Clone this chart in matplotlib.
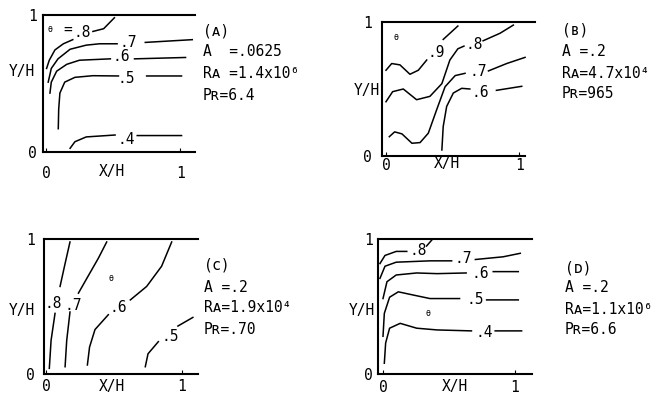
import numpy as np
import matplotlib.pyplot as plt

plt.rcParams['font.family'] = ['DejaVu Sans Mono', 'DejaVu Sans']

# isotherms, None = gap where the label sits
# (A) A=.0625 Ra=1.4x10^6 Pr=6.4
A_levels = [".8", ".7", ".6", ".5", ".4"]
A_x = [
    [0.005, 0.025, 0.067, 0.13, 0.20, None, 0.35, 0.43, 0.51],
    [0.017, 0.04, 0.09, 0.18, 0.30, 0.40, 0.53, None, 0.74, 1.09],
    [0.03, 0.04, 0.08, 0.155, 0.25, 0.48, None, 0.66, 1.04],
    [0.092, 0.095, 0.104, 0.14, 0.216, 0.35, 0.54, None, 0.75, 1.01],
    [0.18, 0.216, 0.30, 0.515, None, 0.68, 1.01],
]
A_y = [
    [0.61, 0.67, 0.745, 0.79, 0.82, None, 0.88, 0.90, 0.98],
    [0.51, 0.61, 0.68, 0.75, 0.78, 0.79, 0.79, None, 0.80, 0.82],
    [0.43, 0.51, 0.59, 0.64, 0.67, 0.68, None, 0.68, 0.69],
    [0.17, 0.31, 0.43, 0.51, 0.545, 0.557, 0.555, None, 0.555, 0.555],
    [0.027, 0.075, 0.11, 0.124, None, 0.12, 0.12],
]
A_lab_x = [0.27, 0.61, 0.56, 0.60, 0.60]
A_lab_y = [0.87, 0.80, 0.70, 0.54, 0.09]
A_info = ["(ᴀ)", "A  =.0625", "Rᴀ =1.4x10⁶", "Pʀ=6.4"]

# (B) A=.2 Ra=4.7x10^4 Pr=965
B_levels = [".9", ".8", ".7", ".6"]
B_x = [
    [0.0, 0.043, 0.105, 0.18, 0.243, 0.306, None, 0.43, 0.54],
    [0.0, 0.05, 0.13, 0.23, 0.33, 0.42, 0.48, 0.54, 0.586, None, 0.73, 0.857, 0.957],
    [0.025, 0.065, 0.12, 0.195, 0.256, 0.318, 0.38, 0.444, 0.52, 0.594, None, 0.77, 0.907, 1.045],
    [0.42, 0.43, 0.456, 0.506, 0.569, 0.63, None, 0.83, 1.02],
]
B_y = [
    [0.64, 0.69, 0.68, 0.61, 0.64, 0.716, None, 0.87, 0.97],
    [0.405, 0.48, 0.50, 0.42, 0.445, 0.54, 0.716, 0.80, 0.82, None, 0.86, 0.916, 0.977],
    [0.144, 0.18, 0.165, 0.095, 0.10, 0.17, 0.343, 0.517, 0.60, 0.617, None, 0.635, 0.69, 0.736],
    [0.045, 0.22, 0.37, 0.47, 0.505, 0.50, None, 0.49, 0.52],
]
B_lab_x = [0.38, 0.66, 0.694, 0.707]
B_lab_y = [0.77, 0.83, 0.63, 0.475]
B_info = ["(ʙ)", "A =.2", "Rᴀ=4.7x10⁴", "Pʀ=965"]

# (C) A=.2 Ra=1.9x10^4 Pr=.70
C_levels = [".8", ".7", ".6", ".5"]
C_x = [
    [0.024, 0.037, 0.066, None, 0.103, 0.14, 0.176],
    [0.14, 0.152, 0.176, None, 0.238, 0.30, 0.385, 0.446],
    [0.304, 0.32, 0.36, 0.458, None, 0.62, 0.74, 0.85, 0.924],
    [0.73, 0.75, 0.826, None, 0.97, 1.08],
]
C_y = [
    [0.042, 0.25, 0.45, None, 0.65, 0.82, 0.98],
    [0.054, 0.25, 0.46, None, 0.60, 0.71, 0.86, 0.98],
    [0.067, 0.20, 0.33, 0.44, None, 0.55, 0.65, 0.80, 0.98],
    [0.054, 0.15, 0.24, None, 0.356, 0.42],
]
C_lab_x = [0.05, 0.20, 0.53, 0.91]
C_lab_y = [0.525, 0.51, 0.49, 0.28]
C_info = ["(ᴄ)", "A =.2", "Rᴀ=1.9x10⁴", "Pʀ=.70"]

# (D) A=.2 Ra=1.1x10^6 Pr=6.6
D_levels = [".8", ".7", ".6", ".5", ".4"]
D_x = [
    [-0.023, 0.015, 0.10, 0.18, None, 0.33, 0.37],
    [-0.023, 0.015, 0.10, 0.356, 0.52, None, 0.70, 0.91, 1.04],
    [0.0, 0.03, 0.10, 0.255, 0.41, 0.63, None, 0.835, 1.025],
    [0.0, 0.01, 0.05, 0.116, 0.23, 0.356, 0.58, None, 0.785, 1.025],
    [0.01, 0.02, 0.05, 0.13, 0.255, 0.41, 0.67, None, 0.85, 1.05],
]
D_y = [
    [0.82, 0.88, 0.91, 0.91, None, 0.95, 0.995],
    [0.71, 0.80, 0.83, 0.84, 0.84, None, 0.85, 0.87, 0.896],
    [0.56, 0.685, 0.735, 0.75, 0.745, 0.75, None, 0.76, 0.76],
    [0.28, 0.45, 0.57, 0.61, 0.586, 0.56, 0.56, None, 0.55, 0.55],
    [0.08, 0.23, 0.34, 0.376, 0.34, 0.327, 0.32, None, 0.32, 0.32],
]
D_lab_x = [0.27, 0.61, 0.735, 0.70, 0.77]
D_lab_y = [0.92, 0.86, 0.745, 0.55, 0.31]
D_info = ["(ᴅ)", "A =.2", "Rᴀ=1.1x10⁶", "Pʀ=6.6"]

W, H = 656, 395
FS = 10.5
fig = plt.figure(figsize=(W / 100, H / 100), dpi=100)


def arr(seg):
    return np.array([np.nan if v is None else v for v in seg], dtype=float)


def panel(rect, xlim, levels, xs, ys, lx, ly, theta, xpad, ypad, xl, yl):
    ax = fig.add_axes(rect)
    for x, y in zip(xs, ys):
        ax.plot(arr(x), arr(y), color='black', lw=1.1)
    for lev, x, y in zip(levels, lx, ly):
        ax.text(x, y, lev, ha='center', va='center', fontsize=FS)
    ax.text(theta[0], theta[1], "θ", ha='center', va='center', fontsize=6)
    ax.set_xlim(*xlim)
    ax.set_ylim(0, 1)
    ax.spines['right'].set_visible(False)
    for s in ['left', 'bottom', 'top']:
        ax.spines[s].set_linewidth(1.5)
    ax.set_xticks([0, 1])
    ax.set_yticks([0, 1])
    ax.tick_params(axis='x', direction='in', length=3, pad=xpad, labelsize=FS)
    ax.tick_params(axis='y', length=0, pad=ypad, labelsize=FS)
    ax.set_xlabel("X/H", fontsize=FS)
    ax.xaxis.set_label_coords(*xl)
    ax.xaxis.label.set_va('center')
    ax.set_ylabel("Y/H", fontsize=FS, rotation=0)
    ax.yaxis.set_label_coords(*yl)
    ax.yaxis.label.set_va('center')
    ax.yaxis.label.set_ha('center')
    return ax


def info(x, ys, lines):
    for y, s in zip(ys, lines):
        fig.text(x / W, 1 - y / H, s, ha='left', va='center', fontsize=FS)


axA = panel([0.0655, 0.6152, 0.2317, 0.3468], (-0.022, 1.11), A_levels, A_x, A_y,
            A_lab_x, A_lab_y, (0.03, 0.895), 10, 4.5, (0.454, -0.146), (-0.138, 0.584))
axA.text(0.166, 0.895, "=", ha='center', va='center', fontsize=FS)
info(203, [31, 52, 73, 95], A_info)

axB = panel([0.5819, 0.6051, 0.2337, 0.3392], (-0.032, 1.12), B_levels, B_x, B_y,
            B_lab_x, B_lab_y, (0.075, 0.886), 1.5, 7, (0.426, -0.054), (-0.098, 0.49))
axB.spines['bottom'].set_bounds(-0.032, 1.045)
info(562, [30, 52, 73, 94], B_info)

axC = panel([0.0671, 0.0532, 0.2348, 0.341], (-0.015, 1.118), C_levels, C_x, C_y,
            C_lab_x, C_lab_y, (0.48, 0.71), 3.5, 6.5, (0.44, -0.09), (-0.143, 0.475))
info(204, [265, 287, 308, 330], C_info)

axD = panel([0.5758, 0.0532, 0.2348, 0.341], (-0.04, 1.127), D_levels, D_x, D_y,
            D_lab_x, D_lab_y, (0.34, 0.45), 4.5, 3.5, (0.50, -0.094), (-0.10, 0.475))
info(565, [268, 288, 309, 330], D_info)

fig.savefig("out.png", dpi=100)
